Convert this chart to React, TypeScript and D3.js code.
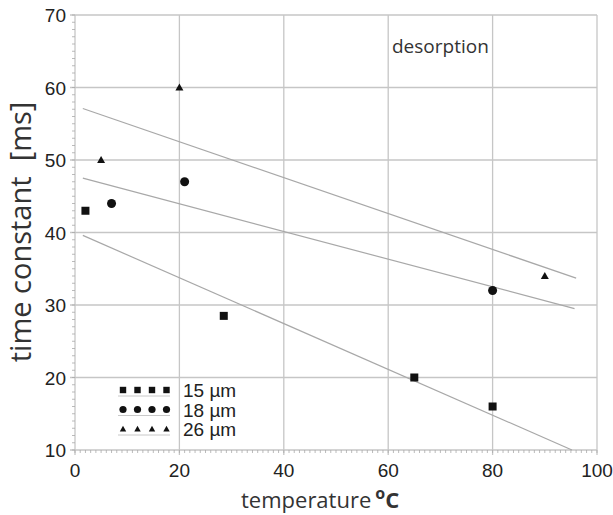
import React from "react";
import * as d3 from "d3";

// measured points (temperature °C, time constant ms)
const temp15 = [2, 28.5, 65, 80];
const tau15 = [43, 28.5, 20, 16];
const temp18 = [7, 21, 80];
const tau18 = [44, 47, 32];
const temp26 = [5, 20, 90];
const tau26 = [50, 60, 34];

// linear fits, start and end
const fitTemp15 = [1.5, 95.2];
const fitTau15 = [39.6, 10];
const fitTemp18 = [1.5, 95.7];
const fitTau18 = [47.5, 29.5];
const fitTemp26 = [1.5, 96];
const fitTau26 = [57.1, 33.7];

const xTicks = [0, 20, 40, 60, 80, 100];
const yTicks = [10, 20, 30, 40, 50, 60, 70];
const legendLabels = ["15 \u00b5m", "18 \u00b5m", "26 \u00b5m"];

const W = 613;
const H = 515;
const grid = "#c6c6c6";
const ink = "#111";

const Marker = ({ kind, cx, cy, s = 1 }: { kind: string; cx: number; cy: number; s?: number }) => {
  if (kind === "square")
    return <rect x={cx - 4 * s} y={cy - 4 * s} width={8 * s} height={8 * s} fill={ink} />;
  if (kind === "circle") return <circle cx={cx} cy={cy} r={4.5 * s} fill={ink} />;
  return (
    <path
      d={`M${cx},${cy - 4 * s} L${cx + 4 * s},${cy + 3 * s} L${cx - 4 * s},${cy + 3 * s} Z`}
      fill={ink}
    />
  );
};

export default function App() {
  const x = d3.scaleLinear().domain([0, 100]).range([75, 597]);
  const y = d3.scaleLinear().domain([10, 70]).range([450, 15]);

  const line = d3
    .line<[number, number]>()
    .x((d) => x(d[0]))
    .y((d) => y(d[1]));

  const series = [
    { kind: "square", t: temp15, v: tau15, ft: fitTemp15, fv: fitTau15 },
    { kind: "circle", t: temp18, v: tau18, ft: fitTemp18, fv: fitTau18 },
    { kind: "triangle", t: temp26, v: tau26, ft: fitTemp26, fv: fitTau26 },
  ];

  const minorX = d3.range(0, 101, 1);
  const minorY = d3.range(10, 71, 1);
  const tickFont = "'Liberation Sans', Arial, sans-serif";
  const titleFont = "'Open Sans', sans-serif";

  return (
    <svg
      width={W}
      height={H}
      style={{ position: "absolute", left: 0, top: 0, background: "#fff" }}
    >
      {/* grid */}
      {xTicks.map((t) => (
        <line key={"gx" + t} x1={x(t)} x2={x(t)} y1={y(70)} y2={y(10) + 5} stroke={grid} strokeWidth={1.3} />
      ))}
      {yTicks.map((t) => (
        <line key={"gy" + t} x1={x(0) - 5} x2={x(100)} y1={y(t)} y2={y(t)} stroke={grid} strokeWidth={1.3} />
      ))}
      {/* minor ticks */}
      {minorX.map((t) => (
        <line key={"mx" + t} x1={x(t)} x2={x(t)} y1={y(10)} y2={y(10) + 3} stroke="#aaa" strokeWidth={0.8} />
      ))}
      {minorY.map((t) => (
        <line key={"my" + t} x1={x(0) - 3} x2={x(0)} y1={y(t)} y2={y(t)} stroke="#aaa" strokeWidth={0.8} />
      ))}

      {/* tick labels */}
      {xTicks.map((t) => (
        <text key={"tx" + t} x={x(t)} y={477} textAnchor="middle" fontFamily={tickFont} fontSize={19} fill="#222">
          {t}
        </text>
      ))}
      {yTicks.map((t) => (
        <text key={"ty" + t} x={66} y={y(t) + 7} textAnchor="end" fontFamily={tickFont} fontSize={19} fill="#222">
          {t}
        </text>
      ))}

      {/* fit lines */}
      {series.map((s) => (
        <path
          key={"f" + s.kind}
          d={line(s.ft.map((t, i) => [t, s.fv[i]] as [number, number])) || ""}
          fill="none"
          stroke="#a8a8a8"
          strokeWidth={1.2}
        />
      ))}

      {/* points */}
      {series.map((s) =>
        s.t.map((t, i) => (
          <Marker key={s.kind + i} kind={s.kind} cx={x(t)} cy={y(s.v[i])} />
        ))
      )}

      {/* legend */}
      {series.map((s, i) => {
        const ly = 390 + i * 19.5;
        return (
          <g key={"lg" + s.kind}>
            {[0, 1, 2, 3].map((k) => (
              <Marker key={k} kind={s.kind} cx={123 + k * 14.5} cy={ly} s={0.8} />
            ))}
            <line x1={118} x2={170} y1={ly + 6} y2={ly + 6} stroke="#c8c8c8" strokeWidth={1} />
            <text x={183} y={ly + 7} fontFamily={tickFont} fontSize={19} fill="#222">
              {legendLabels[i]}
            </text>
          </g>
        );
      })}

      <text x={392} y={53} fontFamily={titleFont} fontSize={19} fill="#333">
        desorption
      </text>

      {/* axis titles */}
      <text x={241} y={508} fontFamily={titleFont} fontSize={22} fill="#333">
        temperature
        <tspan dx={4} dy={-9} fontSize={16} fontWeight="bold">o</tspan>
        <tspan dy={9} fontWeight="bold">C</tspan>
      </text>
      <text
        transform={`translate(31,${232}) rotate(-90)`}
        textAnchor="middle"
        fontFamily={titleFont}
        fontSize={29}
        fill="#333"
        style={{ whiteSpace: "pre" }}
      >
        {"time constant  [ms]"}
      </text>
    </svg>
  );
}
